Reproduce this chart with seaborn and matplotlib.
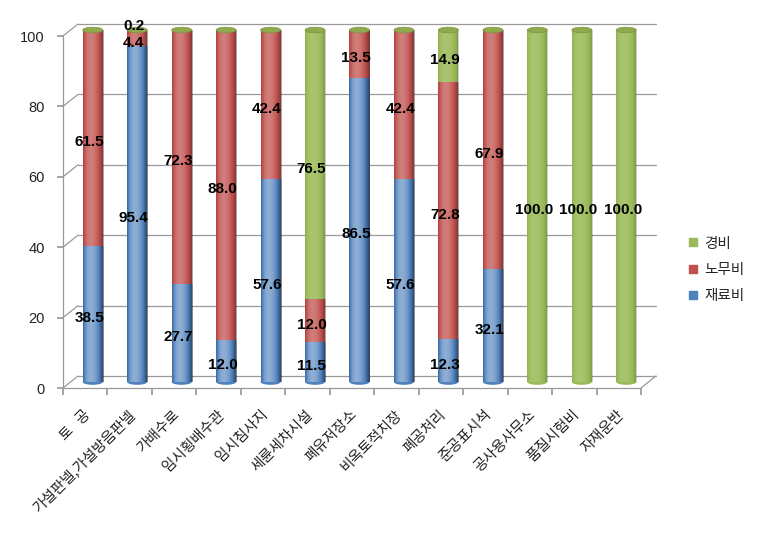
import numpy as np
import pandas as pd
import seaborn as sns
import matplotlib
matplotlib.use("Agg")
import matplotlib.pyplot as plt
from matplotlib.lines import Line2D
from matplotlib.patches import Ellipse

categories = ["토   공", "가설판넬,가설방음판넬", "가배수로", "임시횡배수관", "임시침사지",
              "세륜세차시설", "폐유저장소", "비옥토적치장", "폐공처리", "준공표시석",
              "공사용사무소", "품질시험비", "자재운반"]
material = [38.5, 95.4, 27.7, 12.0, 57.6, 11.5, 86.5, 57.6, 12.3, 32.1, 0, 0, 0]
labor = [61.5, 4.4, 72.3, 88.0, 42.4, 12.0, 13.5, 42.4, 72.8, 67.9, 0, 0, 0]
expense = [0, 0.2, 0, 0, 0, 76.5, 0, 0, 14.9, 0, 100.0, 100.0, 100.0]
series_names = ["재료비", "노무비", "경비"]
y_ticks = [0, 20, 40, 60, 80, 100]

colors = {"재료비": "#4F81BD", "노무비": "#C0504D", "경비": "#9BBB59"}

sns.set_theme(style="white")
plt.rcParams["font.family"] = ["Noto Sans CJK KR", "DejaVu Sans"]

W, H = 760, 533
fig = plt.figure(figsize=(7.6, 5.33), dpi=100)
fig.patch.set_facecolor("white")


def fx(px):
    return px / W


def fy(py):
    return 1 - py / H


FX0, FX1 = 63, 641
FY0, FY1 = 388, 36
DX, DY = 15, 12
GRID = "#9a9a9a"

# front axes (ticks + labels)
ax_f = fig.add_axes([fx(FX0), fy(FY0), (FX1 - FX0) / W, (FY0 - FY1) / H])
ax_f.set_facecolor("none")
ax_f.set_xlim(-0.5, len(categories) - 0.5)
ax_f.set_ylim(0, 100)
for s in ax_f.spines.values():
    s.set_visible(False)
ax_f.set_yticks(y_ticks)
ax_f.set_yticklabels([str(v) for v in y_ticks], fontsize=10.5, color="#222222",
                     family=["Liberation Sans", "DejaVu Sans"])
ax_f.tick_params(axis="y", length=4, color=GRID, pad=9, left=True)
ax_f.set_xticks(np.arange(len(categories) + 1) - 0.5)
ax_f.set_xticklabels([])
ax_f.tick_params(axis="x", which="major", length=5, color=GRID, bottom=True)
ax_f.set_xticks(np.arange(len(categories)) - 0.04, minor=True)
ax_f.set_xticklabels(categories, minor=True, rotation=45, ha="right",
                     va="top", rotation_mode="anchor", fontsize=10.5, color="#222222")
ax_f.tick_params(axis="x", which="minor", length=0, pad=14)


def yfront(v):
    return FY0 - v * (FY0 - FY1) / 100


def fline(x0, y0, x1, y1):
    fig.add_artist(Line2D([fx(x0), fx(x1)], [fy(y0), fy(y1)], transform=fig.transFigure,
                          color=GRID, lw=0.9, zorder=0))


for v in y_ticks:
    yf = yfront(v)
    fline(FX0 + DX, yf - DY, FX1 + DX, yf - DY)
    fline(FX0, yf, FX0 + DX, yf - DY)
fline(FX0, FY0, FX0, FY1)
fline(FX0, FY0, FX1, FY0)
fline(FX1, FY0, FX1 + DX, FY0 - DY)

# bar axes at mid depth
ax = fig.add_axes([fx(FX0 + DX / 2), fy(FY0 - DY / 2), (FX1 - FX0) / W, (FY0 - FY1) / H])
ax.set_facecolor("none")

df = pd.DataFrame({"category": categories, "재료비": material, "노무비": labor, "경비": expense})
df["top_labor"] = df["재료비"] + df["노무비"]
df["top_all"] = df["top_labor"] + df["경비"]

bw = 0.45
for col, cname in [("top_all", "경비"), ("top_labor", "노무비"), ("재료비", "재료비")]:
    sns.barplot(data=df, x="category", y=col, order=categories, color=colors[cname],
                saturation=1, width=bw, linewidth=0, ax=ax, zorder=2)

# subtle cylinder shading
t = np.linspace(0, 1, 80)
s = np.where(t >= 0.35, 1 - ((t - 0.35) / 0.65) ** 2, 1 - 0.6 * ((0.35 - t) / 0.35) ** 2)
k = s - 0.6
img = np.zeros((1, len(t), 4))
img[0, :, :3] = np.where(k[:, None] > 0, 1.0, 0.0)
img[0, :, 3] = np.where(k > 0, k * 0.35, -k * 0.35)
for p in list(ax.patches):
    h = p.get_height()
    if h <= 0:
        continue
    x0 = p.get_x()
    w = p.get_width()
    y0 = p.get_y()
    im = ax.imshow(img, extent=(x0, x0 + w, y0, y0 + h), aspect="auto", zorder=2.5,
                   interpolation="bilinear")
    im.set_clip_path(p)

ax.set_xlim(-0.5, len(categories) - 0.5)
ax.set_ylim(0, 100)
ax.axis("off")

# top caps and bottoms
for i in range(len(categories)):
    total = df["top_all"].iloc[i]
    ax.add_patch(Ellipse((i, total), bw, 1.6, facecolor="#8FAA4E", edgecolor="#7D9640",
                         lw=0.5, zorder=3, clip_on=False))
    bottom_col = colors["재료비"] if material[i] > 0 else (colors["노무비"] if labor[i] > 0 else colors["경비"])
    ax.add_patch(Ellipse((i, 0), bw, 1.6, facecolor=bottom_col, edgecolor="none",
                         zorder=1.5, clip_on=False))

# data labels
for i in range(len(categories)):
    bottom = 0.0
    for name, vals in [("재료비", material), ("노무비", labor), ("경비", expense)]:
        v = vals[i]
        if v > 0:
            if v < 1:
                yl = bottom + v + 1.0
            else:
                yl = bottom + v / 2 - 1.2
            ax.text(i - 0.08, yl, f"{v:.1f}", ha="center", va="center", fontsize=11,
                    fontweight="bold", color="black", zorder=5, clip_on=False,
                    family=["Liberation Sans", "DejaVu Sans"])
        bottom += v

handles = [Line2D([], [], marker="s", linestyle="none", markersize=5.5,
                  markerfacecolor=colors[n], markeredgecolor=colors[n]) for n in reversed(series_names)]
fig.legend(handles, list(reversed(series_names)), loc="center left",
           bbox_to_anchor=(fx(675), fy(270)), frameon=False, fontsize=10.5,
           handlelength=0.7, handletextpad=0.4, labelspacing=0.85)

fig.savefig("out.png", dpi=100, facecolor="white")
